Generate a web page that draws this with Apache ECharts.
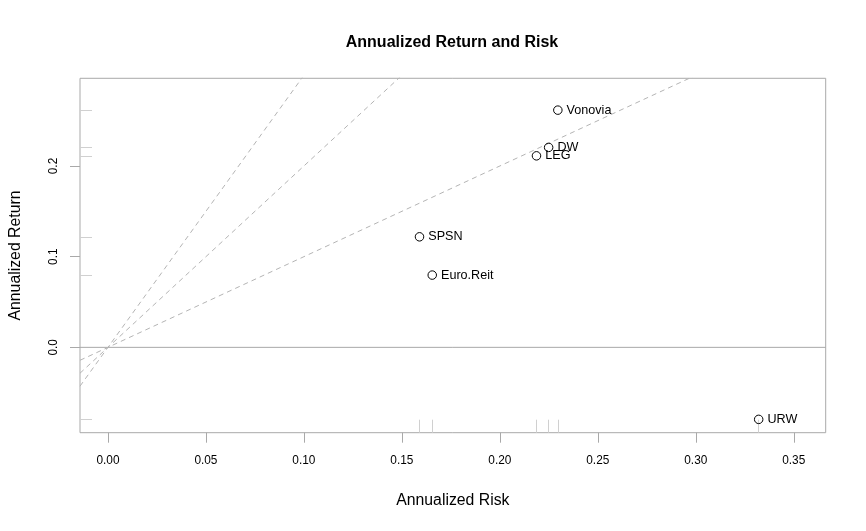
<!DOCTYPE html>
<html>
<head>
<meta charset="utf-8">
<script src="https://cdn.jsdelivr.net/npm/echarts@6/dist/echarts.min.js"></script>
<style>
html,body{margin:0;padding:0;background:#fff;}
#chart{width:866px;height:531px;}
</style>
</head>
<body>
<div id="chart"></div>
<script>
// ---- data ----
var names = ['Vonovia', 'DW', 'LEG', 'SPSN', 'Euro.Reit', 'URW'];
var risk = [0.2296, 0.2249, 0.2187, 0.1590, 0.1655, 0.3321];
var ret = [0.2616, 0.2205, 0.2112, 0.1219, 0.0797, -0.0794];
var sharpeSlopes = [1, 2, 3];
var xTicks = [0, 0.05, 0.10, 0.15, 0.20, 0.25, 0.30, 0.35];
var yTicks = [0, 0.1, 0.2];
var xRange = [-0.01426, 0.3663];
var yRange = [-0.0941, 0.2967];

var FONT = 'Liberation Sans, Arial, Helvetica, sans-serif';
var AXIS_GRAY = '#a9a9a9';
var RUG_GRAY = '#d0d0d0';

var chart = echarts.init(document.getElementById('chart'), null, {renderer: 'canvas'});

var points = names.map(function (n, i) { return {name: n, value: [risk[i], ret[i]]}; });

var series = [];
// zero line
series.push({
  type: 'line', xAxisIndex: 0, yAxisIndex: 0, silent: true, symbol: 'none',
  data: [[xRange[0], 0], [xRange[1], 0]],
  lineStyle: {color: AXIS_GRAY, width: 1, type: 'solid'}, z: 1
});
// sharpe lines
sharpeSlopes.forEach(function (s) {
  series.push({
    type: 'line', xAxisIndex: 0, yAxisIndex: 0, silent: true, symbol: 'none', clip: true,
    data: [[xRange[0], s * xRange[0]], [xRange[1], s * xRange[1]]],
    lineStyle: {color: '#b4b4b4', width: 1, type: [5, 4]}, z: 1
  });
});
// points
series.push({
  type: 'scatter', xAxisIndex: 0, yAxisIndex: 0,
  data: points,
  symbol: 'circle', symbolSize: 8.5,
  itemStyle: {color: 'rgba(255,255,255,0)', borderColor: '#000', borderWidth: 1, opacity: 1},
  label: {
    show: true, position: 'right', distance: 4,
    formatter: function (p) { return p.name; },
    color: '#000', fontSize: 12.6, fontFamily: FONT
  },
  z: 5
});

var option = {
  animation: false,
  backgroundColor: '#fff',
  title: {
    text: 'Annualized Return and Risk',
    left: 447, top: 30, textAlign: 'center',
    textStyle: {fontFamily: FONT, fontSize: 16, fontWeight: 'bold', color: '#000'}
  },
  grid: {
    left: 78.3, right: 40.3, top: 78.3, bottom: 98.3,
    show: true, borderColor: AXIS_GRAY, borderWidth: 1, backgroundColor: 'transparent'
  },
  xAxis: [{
    type: 'value', min: xRange[0], max: xRange[1], position: 'bottom',
    name: 'Annualized Risk', nameLocation: 'middle', nameGap: 60,
    nameTextStyle: {fontFamily: FONT, fontSize: 15.8, color: '#000'},
    axisLine: {show: false, onZero: false},
    splitLine: {show: false},
    axisTick: {show: true, inside: false, length: 10, customValues: xTicks, lineStyle: {color: AXIS_GRAY}},
    axisLabel: {
      show: true, customValues: xTicks, margin: 22,
      formatter: function (v) { return v.toFixed(2); },
      fontFamily: FONT, fontSize: 11.85, color: '#000'
    }
  }, {
    type: 'value', min: xRange[0], max: xRange[1], position: 'bottom',
    axisLine: {show: false, onZero: false}, splitLine: {show: false},
    axisLabel: {show: false},
    axisTick: {show: true, inside: true, length: 13, customValues: risk, lineStyle: {color: RUG_GRAY}}
  }],
  yAxis: [{
    type: 'value', min: yRange[0], max: yRange[1], position: 'left',
    name: 'Annualized Return', nameLocation: 'middle', nameGap: 56,
    nameTextStyle: {fontFamily: FONT, fontSize: 15.8, color: '#000'},
    axisLine: {show: false, onZero: false},
    splitLine: {show: false},
    axisTick: {show: true, inside: false, length: 10, customValues: yTicks, lineStyle: {color: AXIS_GRAY}},
    axisLabel: {
      show: true, customValues: yTicks, margin: 20, rotate: 90,
      formatter: function (v) { return v.toFixed(1); },
      fontFamily: FONT, fontSize: 11.85, color: '#000'
    }
  }, {
    type: 'value', min: yRange[0], max: yRange[1], position: 'left',
    axisLine: {show: false, onZero: false}, splitLine: {show: false},
    axisLabel: {show: false},
    axisTick: {show: true, inside: true, length: 12, customValues: ret, lineStyle: {color: RUG_GRAY}}
  }],
  series: series
};
chart.setOption(option);
</script>
</body>
</html>
